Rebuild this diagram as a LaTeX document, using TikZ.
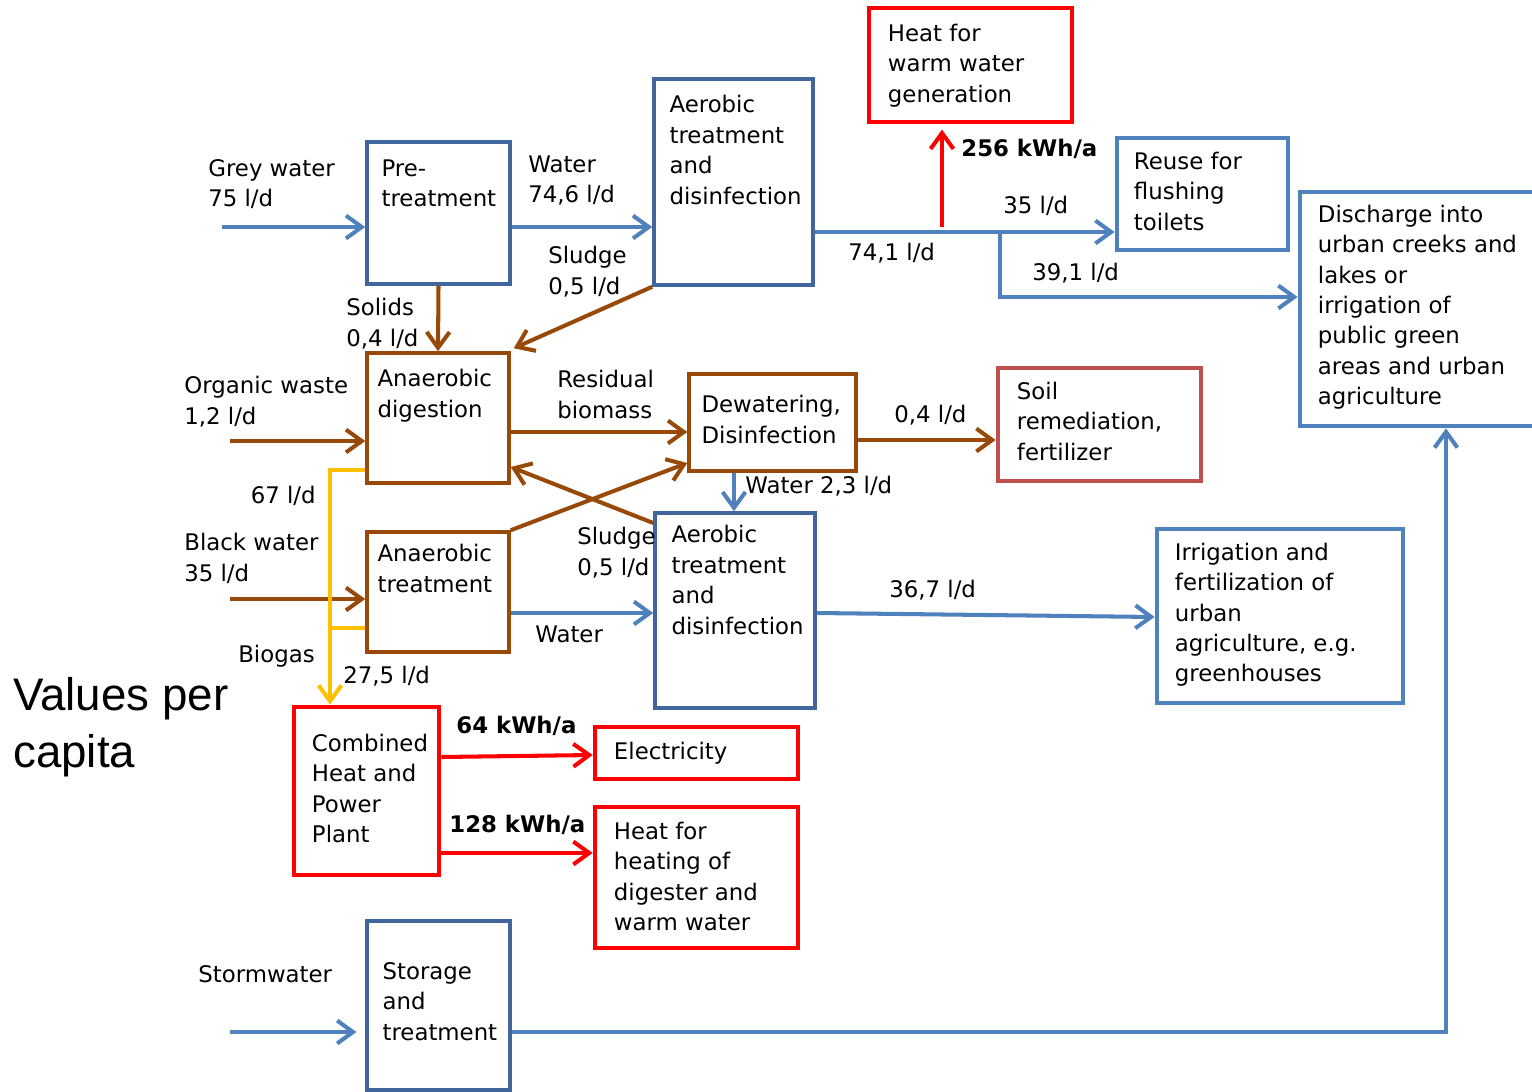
\documentclass[tikz,border=0pt]{standalone}
\usepackage{fontspec}
\setmainfont{DejaVu Sans}
\newfontfamily\valfont{Liberation Sans}
\usetikzlibrary{arrows.meta,fit}

\definecolor{dblue}{HTML}{41669B}
\definecolor{lblue}{HTML}{4F81BD}
\definecolor{brn}{HTML}{984807}
\definecolor{ylw}{HTML}{FFC000}
\definecolor{soilred}{HTML}{C0504D}
\def\ffont{\fontsize{13}{17.3}\selectfont}

\begin{document}
\begin{tikzpicture}[x=0.02cm,y=-0.02cm,
    every node/.style={font=\ffont},
    box/.style={draw=#1, line width=2pt, inner sep=0pt},
    wbox/.style={draw=#1, line width=2.7pt, inner sep=0pt},
    txt/.style={anchor=north west, inner sep=0pt, align=left},
    kwh/.style={txt, font=\ffont\bfseries},
    flow/.style={line width=2.3pt, draw=#1, arrows={-Straight Barb[length=9pt,width=13pt]}},
    pipe/.style={line width=2.3pt, draw=#1}]
  \useasboundingbox (0,0) rectangle (1532,1092);

  % boxes
  \node[box=dblue, fit={(367,142) (510,284)}] (pre) {};
  \node[box=dblue, fit={(654,79) (813,285)}] (aer1) {};
  \node[wbox=red, fit={(869,8) (1072,122)}] (heatw) {};
  \node[wbox=lblue, fit={(1117,138) (1288,250)}] (reuse) {};
  \node[wbox=lblue, fit={(1300,192) (1545,426)}] (disch) {};
  \node[box=brn, fit={(367,353) (509,483)}] (ad) {};
  \node[box=brn, fit={(689,374) (856,471)}] (dew) {};
  \node[wbox=soilred, fit={(998,368) (1201,481)}] (soil) {};
  \node[box=brn, fit={(367,532) (509,652)}] (at) {};
  \node[box=dblue, fit={(655,513) (815,708)}] (aer2) {};
  \node[wbox=lblue, fit={(1157,529) (1403,703)}] (irr) {};
  \node[wbox=red, fit={(294,707) (439,875)}] (chp) {};
  \node[wbox=red, fit={(595,727) (798,779)}] (elec) {};
  \node[wbox=red, fit={(595,807) (798,948)}] (heath) {};
  \node[box=dblue, fit={(367,921) (510,1090)}] (stor) {};

  % box texts
  \node[txt] (pret) at ([shift={(16,19)}]pre.north west) {Pre-\\treatment};
  \node[txt] (aer1t) at ([shift={(17,18)}]aer1.north west) {Aerobic\\treatment\\and\\disinfection};
  \node[txt] (heatwt) at ([shift={(21,18)}]heatw.north west) {Heat for\\warm water\\generation};
  \node[txt] (reuset) at ([shift={(19,16)}]reuse.north west) {Reuse for\\flushing\\toilets};
  \node[txt] (discht) at ([shift={(20,15)}]disch.north west) {Discharge into\\urban creeks and\\lakes or\\irrigation of\\public green\\areas and urban\\agriculture};
  \node[txt] (adt) at ([shift={(12,18)}]ad.north west) {Anaerobic\\digestion};
  \node[txt] (dewt) at ([shift={(14,23)}]dew.north west) {Dewatering,\\Disinfection};
  \node[txt] (soilt) at ([shift={(21,16)}]soil.north west) {Soil\\remediation,\\fertilizer};
  \node[txt] (att) at ([shift={(12,14)}]at.north west) {Anaerobic\\treatment};
  \node[txt] (aer2t) at ([shift={(18,14)}]aer2.north west) {Aerobic\\treatment\\and\\disinfection};
  \node[txt] (irrt) at ([shift={(20,16)}]irr.north west) {Irrigation and\\fertilization of\\urban\\agriculture, e.g.\\greenhouses};
  \node[txt] (chpt) at ([shift={(20,29)}]chp.north west) {Combined\\Heat and\\Power\\Plant};
  \node[txt] (elect) at ([shift={(21,17)}]elec.north west) {Electricity};
  \node[txt] (heatht) at ([shift={(21,17)}]heath.north west) {Heat for\\heating of\\digester and\\warm water};
  \node[txt] (stort) at ([shift={(17,43)}]stor.north west) {Storage\\and\\treatment};

  % inflows
  \coordinate (gwin) at (222,227);
  \coordinate (owin) at (230,441);
  \coordinate (bwin) at (230,599);
  \coordinate (swin) at (230,1032);
  \coordinate (split) at (1000,232);
  \coordinate (dlow) at (1000,297);
  \coordinate (hsrc) at (942,227);

  \draw[flow=lblue] (gwin) -- (gwin -| pre.west);
  \draw[flow=lblue] (pre.east |- gwin) -- (aer1.west |- gwin);
  \draw[pipe=lblue] (aer1.east |- split) -- (split);
  \draw[flow=lblue] (split) -- (split -| reuse.west);
  \draw[flow=lblue] (split) -- (dlow) -- (dlow -| disch.west);
  \draw[flow=red, shorten >=3pt] (hsrc) -- (hsrc |- heatw.south);
  \draw[flow=brn] (pre.south) -- (ad.north);
  \draw[flow=brn] (aer1.south west) -- ([shift={(3,-3)}]ad.north east);
  \draw[flow=brn] (owin) -- (owin -| ad.west);
  \draw[flow=brn] (ad.east |- 0,432) -- (dew.west |- 0,432);
  \draw[flow=brn] (dew.east |- 0,440) -- (soil.west |- 0,440);
  \draw[flow=lblue] (dew.south -| 734,0) -- (aer2.north -| 734,0);
  \draw[flow=brn] (at.north east) -- (dew.south west |- 0,463);
  \draw[flow=brn] (aer2.west |- 0,523) -- (ad.east |- 0,467);
  \draw[flow=brn] (bwin) -- (bwin -| at.west);
  \draw[flow=lblue] (at.east |- 0,613) -- (aer2.west |- 0,613);
  \draw[flow=lblue] (aer2.east |- 0,613) -- (irr.west |- 0,617);
  \draw[flow=ylw] (ad.west |- 0,470) -| (chp.north -| 330,0);
  \draw[pipe=ylw] (at.west |- 0,628) -- (330,628);
  \draw[flow=red] (chp.east |- 0,757) -- (elec.west |- 0,755);
  \draw[flow=red] (chp.east |- 0,853) -- (heath.west |- 0,853);
  \draw[flow=lblue, shorten >=5pt] (swin) -- (swin -| stor.west);
  \draw[flow=lblue] (stor.east |- swin) -| (disch.south -| 1446,0);

  % labels
  \node[txt] (gwl) at (208,159) {Grey water\\75 l/d};
  \node[txt] (wl1) at (528,155) {Water\\74,6 l/d};
  \node[txt] (sl1) at (548,246) {Sludge\\0,5 l/d};
  \node[txt] (sol) at (346,298) {Solids\\0,4 l/d};
  \node[txt] (owl) at (184,376) {Organic waste\\1,2 l/d};
  \node[txt] (rbl) at (557,370) {Residual\\biomass};
  \node[txt, anchor=north east] (l67) at (316,486) {67 l/d};
  \node[txt] (bwl) at (184,533) {Black water\\35 l/d};
  \node[txt, anchor=north east] (bgl) at (315,645) {Biogas};
  \node[txt] (l275) at (343,666) {27,5 l/d};
  \node[txt] (sl2) at (577,527) {Sludge\\0,5 l/d};
  \node[txt] (wl2) at (535,625) {Water};
  \node[txt] (wl3) at (745,476) {Water 2,3 l/d};
  \node[txt] (l04) at (894,405) {0,4 l/d};
  \node[txt] (l741) at (848,243) {74,1 l/d};
  \node[txt] (l35) at (1003,196) {35 l/d};
  \node[txt] (l391) at (1032,263) {39,1 l/d};
  \node[txt] (l367) at (889,580) {36,7 l/d};
  \node[kwh] (k256) at (961,139) {256 kWh/a};
  \node[kwh] (k64) at (456,716) {64 kWh/a};
  \node[kwh] (k128) at (449,815) {128 kWh/a};
  \node[txt] (swl) at (198,965) {Stormwater};
  \node[txt, font=\valfont\fontsize{26}{32.3}\selectfont] (vpc) at (13,677) {Values per\\capita};
\end{tikzpicture}
\end{document}
